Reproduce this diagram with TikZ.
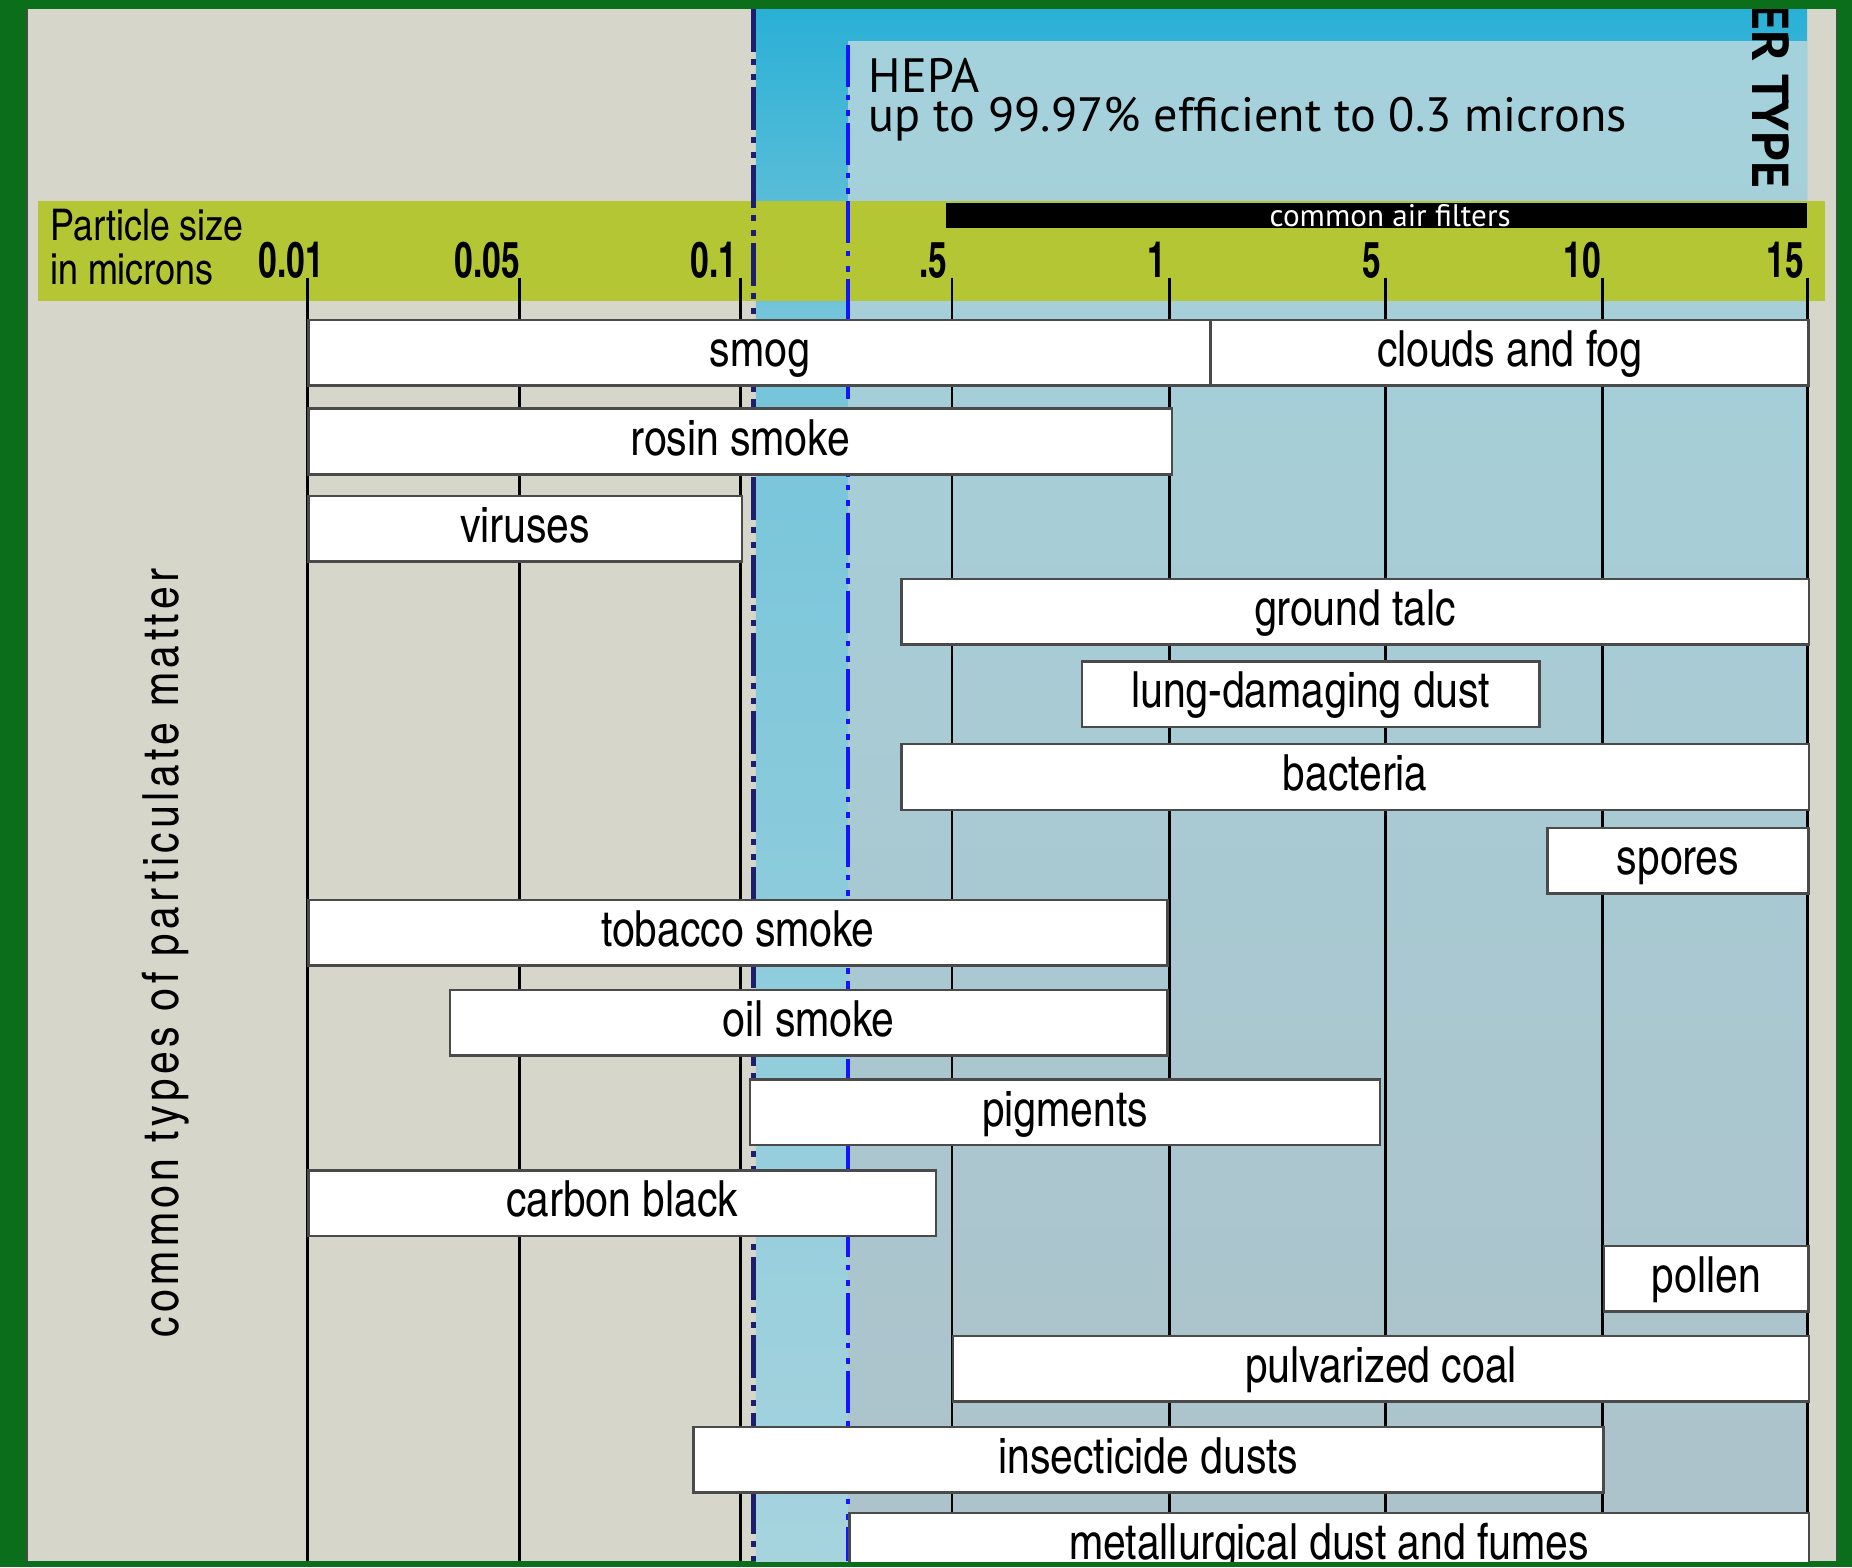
\documentclass[tikz,border=0pt]{standalone}
\usepackage{fontspec}
\usepackage{tikz}
\usetikzlibrary{positioning}
\newfontfamily\heroscn[Extension=.otf,UprightFont=*-regular,BoldFont=*-bold]{texgyreheroscn}
\newfontfamily\tickfont[FakeStretch=0.82]{texgyreheroscn-bold.otf}
\newfontfamily\sidefont[LetterSpace=9]{texgyreheroscn-regular.otf}
\newfontfamily\filterfont{PT Sans}

\definecolor{framegreen}{HTML}{0A6E1A}
\definecolor{panelgray}{HTML}{D6D6CA}
\definecolor{bandyellow}{HTML}{B5C634}
\definecolor{cyantop}{HTML}{2AB0D6}
\definecolor{cyanmid}{HTML}{74C4DA}
\definecolor{cyanlow}{HTML}{A6D3DE}
\definecolor{hepatop}{HTML}{A4D2DC}
\definecolor{hepalow}{HTML}{ADC2CA}
\definecolor{navyline}{HTML}{1E1E6E}
\definecolor{blueline}{HTML}{1414FF}
\definecolor{barborder}{HTML}{4A4A4A}

\tikzset{
pmbar/.style={draw=barborder, line width=0.6pt, fill=white, anchor=north west,
  minimum height=0.555cm, inner sep=0pt, text height=0.32cm, text depth=0.09cm,
  font=\heroscn\fontsize{12}{14}\selectfont},
sizeline/.style={line width=0.7pt},
ticklab/.style={anchor=base east, inner sep=0pt, font=\tickfont\fontsize{12}{14}\selectfont},
filterline/.style={line width=1.1pt,
  dash pattern=on 0.36cm off 0.06cm on 0.05cm off 0.08cm on 0.05cm off 0.06cm},
hepatext/.style={anchor=base west, inner sep=0pt, font=\filterfont\fontsize{11.6}{13}\selectfont},
}

\begin{document}
\begin{tikzpicture}[x=0.01cm, y=-0.01cm]
\fill[framegreen] (0,0) rectangle (1568,1327);
\begin{scope}
\clip (23,8) rectangle (1555,1322);
\fill[panelgray] (23,8) rectangle (1555,1322);
\fill[top color=cyantop, bottom color=cyanmid] (640,8) rectangle (1530,262);
\fill[top color=cyanmid, bottom color=cyanlow] (640,262) rectangle (718,1322);
\fill[top color=hepatop, bottom color=hepalow] (718,35) rectangle (1530,1322);
\fill[bandyellow] (32,170) rectangle (1545,255);
\fill[black] (801,172) rectangle (1530,193);

\node[inner sep=0pt, text=white, font=\filterfont\fontsize{7.5}{9}\selectfont] (airfilters) at (1177,183) {common air filters};
\node[hepatext, text depth=0pt] (hepa) at (735,78) {HEPA};
\node[hepatext, text height=0.3cm] (hepaeff) at (735,111) {up to 99.97\% efficient to 0.3 microns};
\node[rotate=-90, anchor=base east, inner sep=0pt, font=\filterfont\bfseries\fontsize{12.5}{14}\selectfont] (filtertype) at (1484,160) {ER TYPE};
\node[anchor=base west, inner sep=0pt, font=\heroscn\fontsize{10.5}{12}\selectfont] (psize) at (42,204) {Particle size};
\node[anchor=base west, inner sep=0pt, font=\heroscn\fontsize{10.5}{12}\selectfont] (inmicrons) at (42,241) {in microns};

\foreach \x/\lx/\lab [count=\i] in {260/275/0.01, 440/441/0.05, 627/625/0.1, 806/803/.5, 990/988/1, 1173/1170/5, 1357/1356/10, 1530/1528/15}
{
  \node[ticklab] (tick\i) at (\lx,235) {\lab};
  \draw[sizeline] (\x,235) -- (\x,1322);
}

\draw[filterline, navyline] (638,8) -- (638,1322);
\draw[filterline, blueline] (718,38) -- (718,1322);

\node[pmbar, minimum width=7.64cm] (smog) at (260,270) {smog};
\node[pmbar, minimum width=5.06cm] (clouds) at (1024,270) {clouds and fog};
\node[pmbar, minimum width=7.31cm] (rosin) at (260,345) {rosin smoke};
\node[pmbar, minimum width=3.67cm] (viruses) at (260,419) {viruses};
\node[pmbar, minimum width=7.68cm] (talc) at (762,489) {ground talc};
\node[pmbar, minimum width=3.87cm] (lungdust) at (915,559) {lung-damaging dust};
\node[pmbar, minimum width=7.68cm] (bacteria) at (762,629) {bacteria};
\node[pmbar, minimum width=2.21cm] (spores) at (1309,700) {spores};
\node[pmbar, minimum width=7.27cm] (tobacco) at (260,761) {tobacco smoke};
\node[pmbar, minimum width=6.07cm] (oilsmoke) at (380,837) {oil smoke};
\node[pmbar, minimum width=5.33cm] (pigments) at (634,913) {pigments};
\node[pmbar, minimum width=5.31cm] (carbon) at (260,990) {carbon black};
\node[pmbar, minimum width=1.73cm] (pollen) at (1357,1054) {pollen};
\node[pmbar, minimum width=7.24cm] (coal) at (806,1130) {pulvarized coal};
\node[pmbar, minimum width=7.70cm] (insecticide) at (586,1207) {insecticide dusts};
\node[pmbar, minimum width=8.12cm] (metal) at (718,1280) {metallurgical dust and fumes};

\node[rotate=90, anchor=base, inner sep=0pt, font=\sidefont\fontsize{12}{14}\selectfont] (pmtypes) at (151,807) {common types of particulate matter};
\end{scope}
\draw[barborder, line width=0.4pt] (23,8) -- (23,1322) (1555,8) -- (1555,1322);
\end{tikzpicture}
\end{document}
